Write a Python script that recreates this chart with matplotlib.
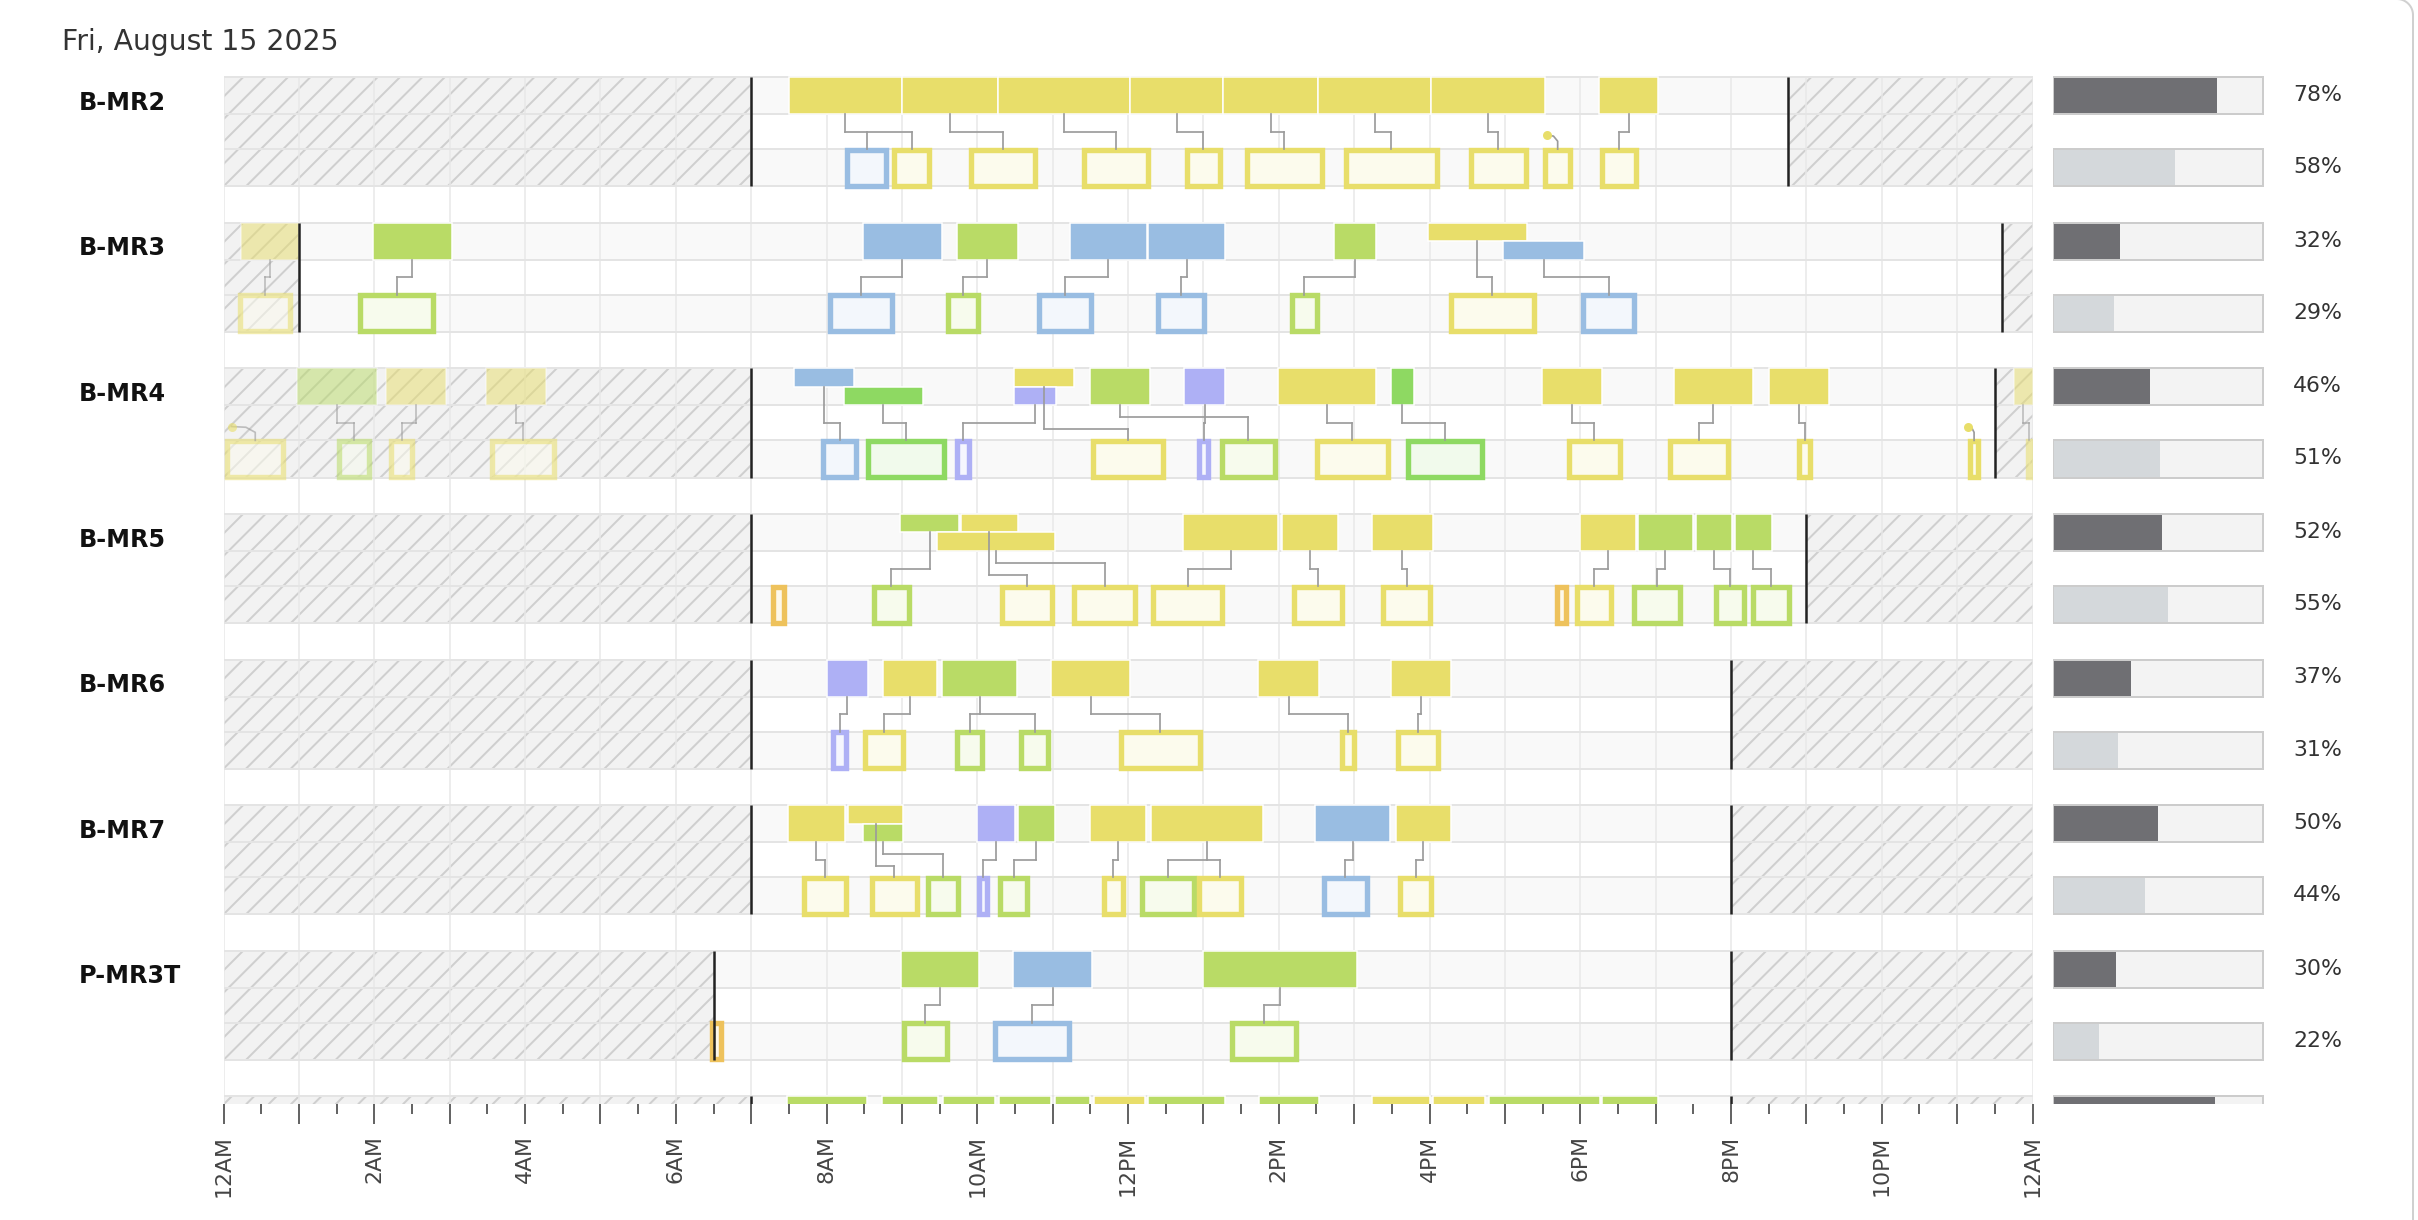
import matplotlib
matplotlib.use("Agg")
import numpy as np
import matplotlib.pyplot as plt
from matplotlib.patches import Rectangle
from matplotlib.lines import Line2D
from matplotlib.collections import LineCollection
from matplotlib.colors import to_rgb
import matplotlib.transforms as mtransforms

# ---------------- data ----------------
title = "Fri, August 15 2025"
machines = ["B-MR2", "B-MR3", "B-MR4", "B-MR5", "B-MR6", "B-MR7", "P-MR3T", ""]
shift_start = [7.0, 1.0, 7.0, 7.0, 7.0, 7.0, 6.5, 7.0]
shift_end = [20.75, 23.6, 23.5, 21.0, 20.0, 20.0, 20.0, 20.0]
util_planned = [78, 32, 46, 52, 37, 50, 30, 77]
util_actual = [58, 29, 51, 55, 31, 44, 22, None]

tick_hours = [0, 2, 4, 6, 8, 10, 12, 14, 16, 18, 20, 22, 24]
tick_labels = ["12AM", "2AM", "4AM", "6AM", "8AM", "10AM", "12PM",
               "2PM", "4PM", "6PM", "8PM", "10PM", "12AM"]

# planned: (start, end, colour, sub-lane 0=full 1=upper half 2=lower half)
plan_mr2 = [(7.5, 9.0, "Y", 0), (9.0, 10.27, "Y", 0), (10.27, 12.03, "Y", 0),
            (12.03, 13.26, "Y", 0), (13.26, 14.52, "Y", 0), (14.52, 16.02, "Y", 0),
            (16.02, 17.53, "Y", 0), (18.25, 19.03, "Y", 0)]
act_mr2 = [(8.24, 8.83, "B"), (8.86, 9.4, "Y"), (9.88, 10.8, "Y"), (11.38, 12.3, "Y"),
           (12.74, 13.26, "Y"), (13.54, 14.61, "Y"), (14.86, 16.13, "Y"),
           (16.51, 17.32, "Y"), (17.5, 17.9, "Y"), (18.25, 18.78, "Y")]
links_mr2 = [(0, 0, 0), (0, 1, 0), (1, 2, 0), (2, 3, 0), (3, 4, 0), (4, 5, 0),
             (5, 6, 0), (6, 7, 0), (7, 9, 0)]
pins_mr2 = [(17.56, 8)]

plan_mr3 = [(0.23, 1.0, "Y", 0), (1.98, 3.03, "G", 0), (8.48, 9.53, "B", 0),
            (9.73, 10.54, "G", 0), (11.23, 12.25, "B", 0), (12.27, 13.29, "B", 0),
            (14.73, 15.29, "G", 0), (15.98, 17.29, "Y", 1), (16.98, 18.05, "B", 2)]
act_mr3 = [(0.18, 0.92, "Y"), (1.77, 2.82, "G"), (8.01, 8.9, "B"), (9.57, 10.04, "G"),
           (10.78, 11.55, "B"), (12.36, 13.05, "B"), (14.14, 14.54, "G"),
           (16.25, 17.42, "Y"), (18.0, 18.75, "B")]
links_mr3 = [(0, 0, 0), (1, 1, 0), (2, 2, 0), (3, 3, 0), (4, 4, 0), (5, 5, 0),
             (6, 6, 0), (7, 7, 0), (8, 8, 0)]
pins_mr3 = []

plan_mr4 = [(0.98, 2.03, "G", 0), (2.15, 2.95, "Y", 0), (3.48, 4.28, "Y", 0),
            (7.57, 8.37, "B", 1), (8.23, 9.28, "BG", 2), (10.49, 11.28, "Y", 1),
            (10.49, 11.04, "L", 2), (11.49, 12.29, "G", 0), (12.74, 13.29, "L", 0),
            (13.99, 15.29, "Y", 0), (15.49, 15.79, "BG", 0), (17.49, 18.29, "Y", 0),
            (19.24, 20.29, "Y", 0), (20.5, 21.3, "Y", 0), (23.75, 24.0, "Y", 0)]
act_mr4 = [(0.01, 0.83, "Y"), (1.49, 1.96, "G"), (2.19, 2.54, "Y"), (3.52, 4.42, "Y"),
           (7.92, 8.43, "B"), (8.51, 9.6, "BG"), (9.7, 9.92, "L"), (11.5, 12.5, "Y"),
           (12.91, 13.1, "L"), (13.21, 13.98, "G"), (14.47, 15.48, "Y"),
           (15.68, 16.73, "BG"), (17.81, 18.56, "Y"), (19.16, 19.99, "Y"),
           (20.87, 21.09, "Y"), (23.14, 23.31, "Y"), (23.9, 24.0, "Y")]
links_mr4 = [(0, 1, 0), (1, 2, 0), (2, 3, 0), (3, 4, 0), (4, 5, 0), (5, 7, 1),
             (6, 6, 0), (7, 9, -1), (8, 8, 0), (9, 10, 0), (10, 11, 0), (11, 12, 0),
             (12, 13, 0), (13, 14, 0), (14, 16, 0)]
pins_mr4 = [(0.11, 0), (23.14, 15)]

plan_mr5 = [(8.98, 9.76, "G", 1), (9.78, 10.54, "Y", 1), (9.47, 11.03, "Y", 2),
            (12.73, 13.99, "Y", 0), (14.04, 14.79, "Y", 0), (15.24, 16.04, "Y", 0),
            (18.0, 18.74, "Y", 0), (18.76, 19.5, "G", 0), (19.54, 20.01, "G", 0),
            (20.05, 20.54, "G", 0)]
act_mr5 = [(7.26, 7.47, "O"), (8.59, 9.13, "G"), (10.29, 11.03, "Y"), (11.25, 12.13, "Y"),
           (12.3, 13.28, "Y"), (14.16, 14.87, "Y"), (15.35, 16.04, "Y"),
           (17.66, 17.84, "O"), (17.92, 18.45, "Y"), (18.68, 19.36, "G"),
           (19.76, 20.21, "G"), (20.26, 20.81, "G")]
links_mr5 = [(0, 1, 0), (1, 2, 1), (2, 3, -1), (3, 4, 0), (4, 5, 0), (5, 6, 0),
             (6, 8, 0), (7, 9, 0), (8, 10, 0), (9, 11, 0)]
pins_mr5 = []

plan_mr6 = [(8.0, 8.55, "L", 0), (8.75, 9.47, "Y", 0), (9.53, 10.53, "G", 0),
            (10.98, 12.03, "Y", 0), (13.73, 14.53, "Y", 0), (15.49, 16.28, "Y", 0)]
act_mr6 = [(8.05, 8.3, "L"), (8.47, 9.05, "Y"), (9.7, 10.1, "G"), (10.55, 10.98, "G"),
           (11.87, 12.99, "Y"), (14.8, 15.04, "Y"), (15.55, 16.15, "Y")]
links_mr6 = [(0, 0, 0), (1, 1, 0), (2, 2, 0), (2, 3, 0), (3, 4, 0), (4, 5, 0), (5, 6, 0)]
pins_mr6 = []

plan_mr7 = [(7.49, 8.24, "Y", 0), (8.28, 9.02, "Y", 1), (8.49, 9.02, "G", 2),
            (9.99, 10.5, "L", 0), (10.54, 11.03, "G", 0), (11.5, 12.24, "Y", 0),
            (12.3, 13.79, "Y", 0), (14.48, 15.48, "B", 0), (15.55, 16.28, "Y", 0)]
act_mr7 = [(7.66, 8.29, "Y"), (8.57, 9.23, "Y"), (9.31, 9.78, "G"), (9.98, 10.17, "L"),
           (10.27, 10.7, "G"), (11.64, 11.97, "Y"), (12.15, 12.91, "G"),
           (12.91, 13.54, "Y"), (14.57, 15.2, "B"), (15.57, 16.06, "Y")]
links_mr7 = [(0, 0, 0), (1, 1, 1), (2, 2, -1), (3, 3, 0), (4, 4, 0), (5, 5, 0),
             (6, 6, 0), (6, 7, 0), (7, 8, 0), (8, 9, 0)]
pins_mr7 = []

plan_mr3t = [(8.99, 10.02, "G", 0), (10.48, 11.52, "B", 0), (12.99, 15.04, "G", 0)]
act_mr3t = [(6.45, 6.64, "O"), (8.99, 9.63, "G"), (10.2, 11.25, "B"), (13.34, 14.26, "G")]
links_mr3t = [(0, 1, 0), (1, 2, 0), (2, 3, 0)]
pins_mr3t = []

plan_row8 = [(7.47, 8.53, "G", 0), (8.74, 9.48, "G", 0), (9.54, 10.23, "G", 0),
             (10.29, 10.98, "G", 0), (11.03, 11.5, "G", 0), (11.55, 12.22, "Y", 0),
             (12.27, 13.29, "G", 0), (13.74, 14.53, "G", 0), (15.24, 16.0, "Y", 0),
             (16.04, 16.74, "Y", 0), (16.79, 18.26, "G", 0), (18.29, 19.03, "G", 0)]
act_row8 = []
links_row8 = []
pins_row8 = []

plans = [plan_mr2, plan_mr3, plan_mr4, plan_mr5, plan_mr6, plan_mr7, plan_mr3t, plan_row8]
acts = [act_mr2, act_mr3, act_mr4, act_mr5, act_mr6, act_mr7, act_mr3t, act_row8]
links = [links_mr2, links_mr3, links_mr4, links_mr5, links_mr6, links_mr7, links_mr3t, links_row8]
pins = [pins_mr2, pins_mr3, pins_mr4, pins_mr5, pins_mr6, pins_mr7, pins_mr3t, pins_row8]

COLORS = {"Y": "#e8de6a", "G": "#b9db66", "BG": "#8ed962", "B": "#99bde2",
          "L": "#aeb0f5", "O": "#eec25c"}

# ---------------- layout ----------------
DPI = 136
W, H = 2418, 1220
PT = 72.0 / DPI
ROW_PX = 145.6
HOUR_PX = 75.37
LH = 0.255
BO = 0.495
LEVELS = {-1: 0.334, 0: 0.376, 1: 0.418}
HATCH_SP = 22.4 / HOUR_PX

plt.rcParams['font.family'] = ['DejaVu Sans']

fig = plt.figure(figsize=(W / DPI, H / DPI), dpi=DPI)
fig.patch.set_facecolor('white')

ax_left, ax_right = 223.6, 2032.5
ax_top, ax_bot = 61.0, 1104.4
row0 = 77.1
ylim = ((ax_bot - row0) / ROW_PX, -(row0 - ax_top) / ROW_PX)
ax = fig.add_axes([ax_left / W, 1 - ax_bot / H, (ax_right - ax_left) / W, (ax_bot - ax_top) / H])
ax.set_xlim(0, 24)
ax.set_ylim(*ylim)
for s in ax.spines.values():
    s.set_visible(False)
ax.set_facecolor('none')
ax.set_yticks([])

label_map = dict(zip(tick_hours, tick_labels))
ax.set_xticks(range(25))
ax.set_xticklabels([label_map.get(h, "") for h in range(25)])
ax.set_xticks(np.arange(0.5, 24, 1.0), minor=True)
ax.tick_params(axis='x', which='major', length=20 * PT, width=1.5 * PT, color='#333333',
               pad=11 * PT, labelsize=22 * PT, labelcolor='#444444', labelrotation=90)
ax.tick_params(axis='x', which='minor', length=10 * PT, width=1.5 * PT, color='#333333')

# grid lines
ax.vlines(range(25), 0, ylim[0], color='#e8e8e8', lw=1.5 * PT, zorder=3)


def light(c, f=0.12):
    r, g, b = to_rgb(c)
    return (1 - f + f * r, 1 - f + f * g, 1 - f + f * b)


def hatch_area(a, b, ytop, ybot):
    ybot = min(ybot, ylim[0])
    if ybot <= ytop:
        return
    rect = Rectangle((a, ytop), b - a, ybot - ytop, facecolor='#f2f2f2',
                     edgecolor='none', zorder=2)
    ax.add_patch(rect)
    shift = (ybot - ytop) * ROW_PX / HOUR_PX
    start = np.floor((a - shift) / HATCH_SP) * HATCH_SP
    xs = np.arange(start, b + HATCH_SP, HATCH_SP)
    segs = [[(x, ybot), (x + shift, ytop)] for x in xs]
    lc = LineCollection(segs, colors='#cfcfcf', linewidths=2.0 * PT, zorder=2.5)
    ax.add_collection(lc)
    lc.set_clip_path(rect)


LW_BOX = 5.4
hx = (LW_BOX / 2) / HOUR_PX
hy = 0.6 / ROW_PX

for i, name in enumerate(machines):
    y0 = i
    s0, s1 = shift_start[i], shift_end[i]
    # lane backgrounds
    for ly in (y0, y0 + BO):
        ax.add_patch(Rectangle((0, ly), 24, LH, facecolor='#f9f9f9', edgecolor='none', zorder=1))
    # hatched off-shift areas
    for a, b in ((0, s0), (s1, 24)):
        if b - a > 0:
            hatch_area(a, b, y0, y0 + BO + LH)
    # lane borders
    ax.hlines([y0, y0 + LH, y0 + BO, y0 + BO + LH], 0, 24, color='#e4e4e4',
              lw=2.0 * PT, zorder=3)

    def faded(a, b):
        return b <= s0 + 1e-6 or a >= s1 - 1e-6

    # planned bars
    for (a, b, c, sub) in plans[i]:
        if sub == 0:
            yb, hb = y0, LH
        elif sub == 1:
            yb, hb = y0, LH / 2
        else:
            yb, hb = y0 + LH / 2, LH / 2
        ax.add_patch(Rectangle((a, yb), b - a, hb, facecolor=COLORS[c], edgecolor='white',
                               lw=1.5 * PT, alpha=0.5 if faded(a, b) else 1.0, zorder=4))
    # actual boxes
    for (a, b, c) in acts[i]:
        al = 0.55 if faded(a, b) else 1.0
        wdt = max(b - a - 2 * hx, 0.012)
        ax.add_patch(Rectangle((a + hx, y0 + BO + hy), wdt, LH - 2 * hy,
                               facecolor=light(COLORS[c]), edgecolor=COLORS[c],
                               lw=LW_BOX * PT, alpha=al, joinstyle='miter', zorder=4))
    # connectors
    groups = {}
    for (p, q, lv) in links[i]:
        groups.setdefault(p, []).append((q, lv))
    for p, kids in groups.items():
        a, b, c, sub = plans[i][p]
        px = (a + b) / 2
        ys = y0 + (LH / 2 if sub == 1 else LH)
        yl = y0 + LEVELS[kids[0][1]]
        cxs = [(acts[i][q][0] + acts[i][q][1]) / 2 for q, _ in kids]
        al = 0.6 if faded(a, b) else 1.0
        kw = dict(color='#9b9b9b', lw=1.7 * PT, alpha=al, zorder=5, solid_joinstyle='miter')
        ax.plot([px, px], [ys, yl], **kw)
        ax.plot([min(cxs + [px]), max(cxs + [px])], [yl, yl], **kw)
        for cx in cxs:
            ax.plot([cx, cx], [yl, y0 + BO], **kw)
    # pins
    for (t, q) in pins[i]:
        a, b, c = acts[i][q]
        cx = (a + b) / 2
        al = 0.6 if faded(a, b) else 1.0
        ax.plot([t, t + 0.6 * (cx - t), cx, cx],
                [y0 + 0.40, y0 + 0.405, y0 + 0.44, y0 + BO],
                color='#9b9b9b', lw=1.7 * PT, alpha=al, zorder=5)
        ax.plot([t], [y0 + 0.40], marker='o', ms=9 * PT, color=COLORS[c],
                mec='none', alpha=al, zorder=6)
    # shift boundary lines
    for sx in (s0, s1):
        if 0 < sx < 24:
            ax.vlines(sx, y0, y0 + BO + LH, color='#222222', lw=2.5 * PT, zorder=6)

# row labels
lab_tr = mtransforms.blended_transform_factory(fig.transFigure, ax.transData)
for i, name in enumerate(machines):
    if name:
        ax.text(78.4 / W, i + 0.225, name, transform=lab_tr, fontsize=23.9 * PT,
                fontweight='bold', color='#111111', va='baseline', ha='left', clip_on=False)

# utilisation column
u_left, u_w = 2053.3, 209.4
ux = fig.add_axes([u_left / W, 1 - ax_bot / H, (W - u_left) / W, (ax_bot - ax_top) / H])
ux.set_xlim(0, 100 * (W - u_left) / u_w)
ux.set_ylim(*ylim)
ux.axis('off')
txt_x = 100 * (2293 - u_left) / u_w
for i in range(len(machines)):
    for val, off, col in ((util_planned[i], 0, '#6f6f73'), (util_actual[i], BO, '#d4d8db')):
        if val is None:
            continue
        yb = i + off
        ux.add_patch(Rectangle((0, yb), 100, LH, facecolor='#f3f3f3', edgecolor='none', zorder=1))
        ux.add_patch(Rectangle((0, yb), val, LH, facecolor=col, edgecolor='none', zorder=2))
        ux.add_patch(Rectangle((0, yb), 100, LH, facecolor='none', edgecolor='#cccccc',
                               lw=2.0 * PT, zorder=3))
        ux.text(txt_x, yb + LH / 2 + 0.037, f"{val}%", fontsize=22 * PT, color='#333333',
                va='baseline', ha='left', clip_on=True)

# title
fig.text(62 / W, 1 - 50 / H, title, fontsize=28.3 * PT, color='#333333', va='baseline', ha='left')

# card border: right edge with a rounded top-right corner (pixel coordinates)
r = 16.0
ang = np.linspace(0, np.pi / 2, 20)
bx = np.concatenate([[2413, 2413], 2413 - r + r * np.cos(ang), [2300]])
by = np.concatenate([[-5, H + 1 - r], H + 1 - r + r * np.sin(ang), [H + 1]])
fig.add_artist(Line2D(bx, by, transform=mtransforms.IdentityTransform(),
                      color='#d0d0d0', lw=2.0 * PT))

fig.savefig("out.png", dpi=DPI, facecolor='white')
